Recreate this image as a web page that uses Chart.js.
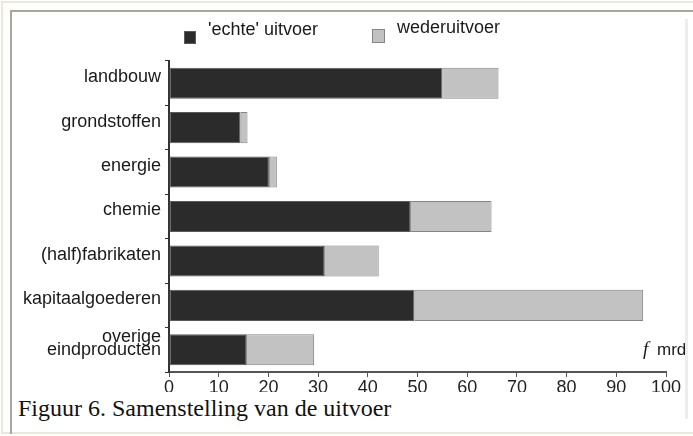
<!DOCTYPE html>
<html>
<head>
<meta charset="utf-8">
<script src="https://cdn.jsdelivr.net/npm/chart.js@4"></script>
<style>
  body { margin: 0; width: 693px; height: 436px; background: #fff; position: relative; overflow: hidden; }
  #outer { position: absolute; left: 1px; top: 1px; width: 692px; height: 433px; border-left: 2px solid #ece8da; border-top: 2px solid #ece8da; border-bottom: 2px solid #ece8da; box-sizing: border-box; }
  #frame { position: absolute; left: 10px; top: 10px; width: 683px; height: 424px; border-left: 2px solid #a9a69c; border-top: 2px solid #a9a69c; box-sizing: border-box; }
  #wrap { position: absolute; left: 12px; top: 12px; width: 681px; height: 380px; }
  #rightline { position: absolute; left: 685px; top: 19px; width: 3px; height: 400px; background: #ededed; }
  #caption { position: absolute; left: 18px; top: 395px; font: 24px "Liberation Serif", "DejaVu Serif", serif; color: #111; }
</style>
</head>
<body>
<div id="outer"></div>
<div id="frame"></div>
<div id="wrap"><canvas id="myExportChart" width="681" height="380"></canvas></div>
<div id="rightline"></div>
<div id="caption">Figuur 6. Samenstelling van de uitvoer</div>
<script>
// values (f mrd)

var categories = ["landbouw", "grondstoffen", "energie", "chemie", "(half)fabrikaten", "kapitaalgoederen", ["overige", "eindproducten"]];
var echteUitvoer = [55.0, 14.4, 20.1, 48.5, 31.2, 49.4, 15.5];
var wederUitvoer = [11.3, 1.4, 1.6, 16.4, 11.0, 46.0, 13.7];
var xTicks = [0, 10, 20, 30, 40, 50, 60, 70, 80, 90, 100];

// legend + unit label, drawn on the canvas
var extraText = {
  id: "extraText",
  afterDraw: function (chart) {
    var ctx = chart.ctx;
    var sets = chart.data.datasets;
    var spots = [[172, 19, 12, 13, 196, 9], [360, 17, 13, 14, 385, 7]];
    ctx.save();
    for (var i = 0; i < sets.length; i++) {
      var s = spots[i];
      ctx.fillStyle = sets[i].backgroundColor;
      ctx.strokeStyle = sets[i].borderColor;
      ctx.lineWidth = 1;
      ctx.fillRect(s[0], s[1], s[2], s[3]);
      ctx.strokeRect(s[0] + 0.5, s[1] + 0.5, s[2] - 1, s[3] - 1);
      ctx.fillStyle = "#1a1a1a";
      ctx.font = "18px 'Liberation Sans', Arial, sans-serif";
      ctx.textBaseline = "top";
      ctx.fillText(sets[i].label, s[4], s[5]);
    }
    ctx.textBaseline = "alphabetic";
    ctx.font = "italic 19px 'Liberation Serif', serif";
    ctx.fillText("f", 631, 343);
    ctx.font = "17px 'Liberation Sans', Arial, sans-serif";
    ctx.fillText("mrd", 645, 343);
    ctx.restore();
  }
};

var canvasExport = document.getElementById("myExportChart");
var myExportChart = new Chart(canvasExport, {
  type: "bar",
  data: {
    labels: categories,
    datasets: [
      {
        data: echteUitvoer,
        label: "'echte' uitvoer",
        backgroundColor: "#2b2b2b",
        borderColor: "#5a5a5a",
        borderWidth: 1,
        borderSkipped: false
      },
      {
        data: wederUitvoer,
        label: "wederuitvoer",
        backgroundColor: "#c2c2c2",
        borderColor: "#858585",
        borderWidth: 1,
        borderSkipped: false
      }
    ]
  },
  options: {
    indexAxis: "y",
    responsive: false,
    animation: false,
    categoryPercentage: 0.7,
    barPercentage: 1.0,
    layout: { padding: { left: 0, right: 27, top: 49, bottom: 0 } },
    plugins: { legend: { display: false }, tooltip: { enabled: false } },
    scales: {
      x: {
        stacked: true,
        min: 0,
        max: 100,
        afterBuildTicks: function (scale) {
          scale.ticks = xTicks.map(function (v) { return { value: v }; });
        },
        afterFit: function (scale) { scale.height = 20; },
        grid: { drawOnChartArea: false, tickLength: 5, color: "#555", lineWidth: 1 },
        border: { color: "#555", width: 2 },
        ticks: { color: "#222", padding: 0, font: { size: 18, family: "'Liberation Sans', Arial, sans-serif" }, maxRotation: 0 }
      },
      y: {
        stacked: true,
        afterFit: function (scale) { scale.width = 157; },
        grid: { drawOnChartArea: false, tickLength: 4, color: "#333", lineWidth: 1 },
        border: { color: "#333", width: 2 },
        ticks: { color: "#1a1a1a", padding: 4, labelOffset: -6, font: { size: 18, family: "'Liberation Sans', Arial, sans-serif", lineHeight: 0.72 } }
      }
    }
  },
  plugins: [extraText]
});
</script>
</body>
</html>
